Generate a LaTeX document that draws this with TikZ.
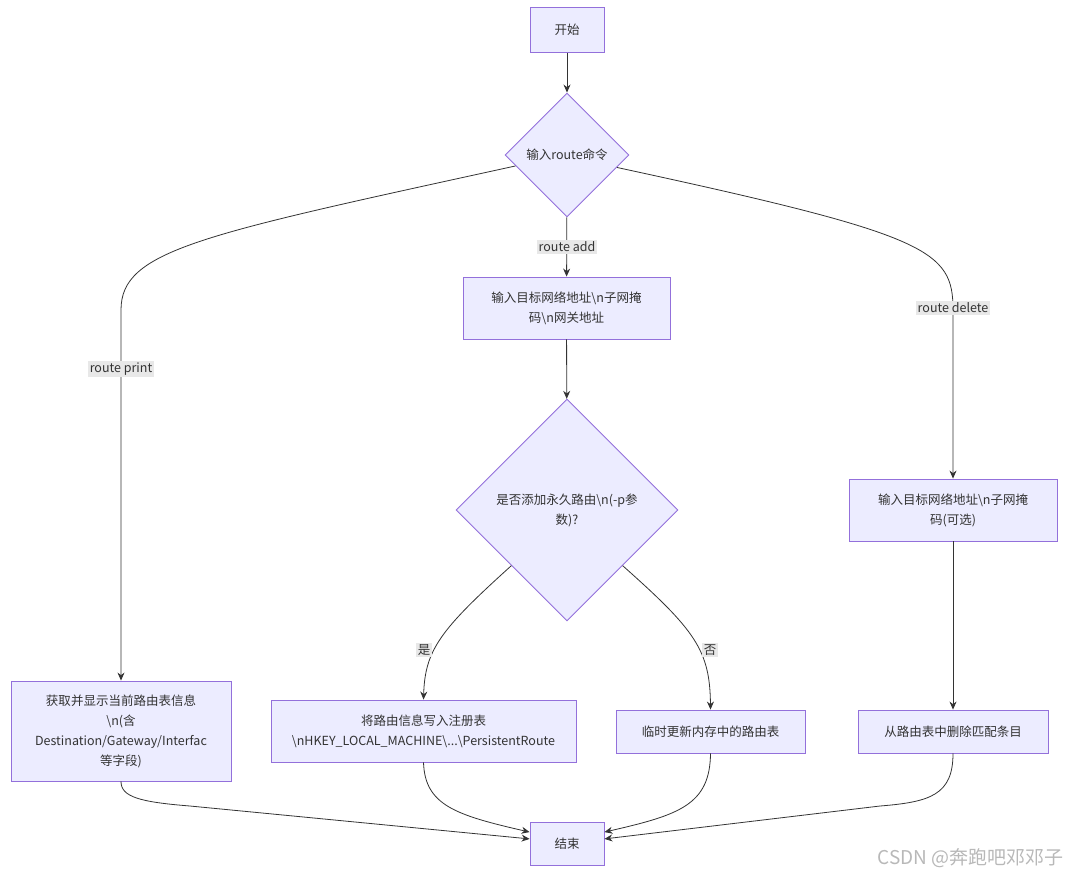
\documentclass[tikz,border=0pt]{standalone}
\usepackage{fontspec}
\setmainfont{Noto Sans CJK SC}
\usetikzlibrary{shapes.geometric,arrows.meta}
\definecolor{nodefill}{HTML}{ECECFF}
\definecolor{nodeline}{HTML}{9370DB}
\definecolor{edgecol}{HTML}{333333}
\definecolor{lblbg}{HTML}{E8E8E8}
\definecolor{txt}{HTML}{333333}
\tikzset{
  box/.style={draw=nodeline, fill=nodefill, line width=0.9pt, inner sep=0pt, align=center, text=txt,
    font=\fontsize{12.5}{20}\selectfont},
  dia/.style={diamond, aspect=1, draw=nodeline, fill=nodefill, line width=0.9pt, inner sep=0pt, align=center, text=txt,
    font=\fontsize{12.5}{20}\selectfont},
  lab/.style={fill=lblbg, inner sep=1.5pt, text=txt, font=\fontsize{12.5}{15}\selectfont},
  flow/.style={draw=edgecol, line width=0.8pt, -{Stealth[length=8pt,width=7pt]}},
}
\begin{document}
\begin{tikzpicture}[x=1pt,y=-1pt]
\useasboundingbox (0,0) rectangle (1070,876);
% nodes
\node[box, minimum width=74pt, minimum height=45pt] (start) at (567,30) {开始};
\node[dia, minimum width=124pt, minimum height=124pt] (cmd) at (567,155) {输入route命令};
\node[box, minimum width=207pt, minimum height=62pt] (addin) at (566.5,308) {输入目标网络地址\textbackslash n子网掩\\码\textbackslash n网关地址};
\node[dia, minimum width=222pt, minimum height=222pt] (perm) at (567,510) {是否添加永久路由\textbackslash n(-p参\\数)?};
\node[box, minimum width=220pt, minimum height=100pt] (print) at (121,731) {获取并显示当前路由表信息\\\textbackslash n(含\\Destination/Gateway/Interfac\\等字段)};
\node[box, minimum width=305pt, minimum height=62pt] (reg) at (423.5,731) {将路由信息写入注册表\\\textbackslash nHKEY\_LOCAL\_MACHINE\textbackslash ...\textbackslash PersistentRoute};
\node[box, minimum width=189pt, minimum height=43pt] (temp) at (710.5,731.5) {临时更新内存中的路由表};
\node[box, minimum width=208pt, minimum height=62pt] (delin) at (953,510) {输入目标网络地址\textbackslash n子网掩\\码(可选)};
\node[box, minimum width=190pt, minimum height=43pt] (del) at (953,731.5) {从路由表中删除匹配条目};
\node[box, minimum width=74pt, minimum height=43pt] (end) at (567,843.5) {结束};
% edges
\draw[flow] (start) -- (cmd);
\draw[flow] (cmd) -- (addin);
\draw[flow] (cmd.192) .. controls (200,235) and (121,250) .. (121,310) -- (print.north);
\draw[flow] (cmd.346) .. controls (930,235) and (953,250) .. (953,310) -- (delin.north);
\draw[flow] (addin) -- (perm);
\draw[flow] (perm.south west) .. controls (440,630) and (425,650) .. (reg.north);
\draw[flow] (perm.south east) .. controls (695,630) and (710,650) .. (temp.north);
\draw[flow] (delin) -- (del);
\draw[flow] (print.south) .. controls (121,797) and (140,802) .. (190,806) -- (end.173);
\draw[flow] (reg.south) .. controls (425,805) and (455,815) .. (end.163);
\draw[flow] (temp.south) .. controls (710,805) and (679,815) .. (end.17);
\draw[flow] (del.south) .. controls (953,795) and (930,802) .. (880,806) -- (end.7);
% labels
\node[lab] (lbadd) at (567,247) {route add};
\node[lab] (lbprint) at (121,369) {route print};
\node[lab] (lbdel) at (953,308) {route delete};
\node[lab] (lbyes) at (424,650) {是};
\node[lab] (lbno) at (710,650) {否};
\node[text=black!28, font=\fontsize{19}{22}\selectfont, anchor=east] (wm) at (1067,858) {CSDN @奔跑吧邓邓子};
\end{tikzpicture}
\end{document}
